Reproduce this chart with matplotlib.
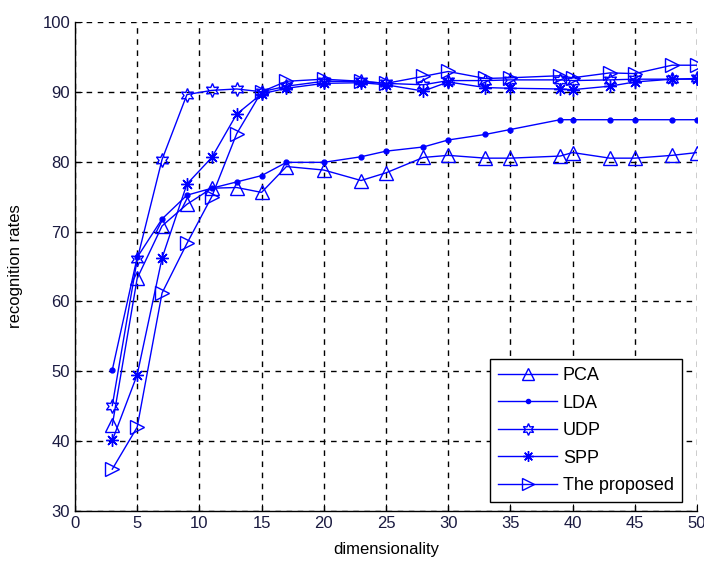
import matplotlib
matplotlib.use('Agg')
import matplotlib.pyplot as plt

plt.rcParams['font.family'] = ['Liberation Sans', 'DejaVu Sans']

dims = [3, 5, 7, 9, 11, 13, 15, 17, 20, 23, 25, 28, 30, 33, 35, 39, 40, 43, 45, 48, 50]

pca = [42.3, 63.3, 70.8, 73.9, 76.2, 76.3, 75.6, 79.3, 78.8, 77.3, 78.4, 80.6, 80.9,
       80.5, 80.5, 80.8, 81.3, 80.5, 80.5, 80.9, 81.3]
lda = [50.2, 66.3, 71.8, 75.2, 76.2, 77.1, 78.0, 79.9, 79.9, 80.7, 81.5, 82.1, 83.1,
       83.9, 84.6, 86.0, 86.0, 86.0, 86.0, 86.0, 86.0]
udp = [45.1, 66.0, 80.3, 89.6, 90.2, 90.4, 90.0, 90.8, 91.5, 91.5, 91.2, 91.0, 91.6,
       91.6, 91.7, 91.7, 91.6, 91.7, 91.8, 91.8, 91.9]
spp = [40.1, 49.5, 66.2, 76.8, 80.6, 86.8, 89.7, 90.5, 91.2, 91.3, 91.0, 90.1, 91.4,
       90.6, 90.5, 90.4, 90.3, 90.8, 91.4, 91.8, 91.8]
proposed = [36.0, 42.0, 61.2, 68.3, 75.0, 84.0, 90.0, 91.5, 91.8, 91.5, 91.2, 92.2, 92.9,
            91.9, 92.0, 92.3, 92.0, 92.7, 92.6, 93.8, 93.8]

labels = ['PCA', 'LDA', 'UDP', 'SPP', 'The proposed']

fig = plt.figure(figsize=(7.04, 5.61), dpi=100)
ax = fig.add_axes([0.1065, 0.089, 0.8835, 0.872])

blue = '#0000ff'
ax.plot(dims, pca, color=blue, lw=1, marker='^', ms=10, mfc='none', mec=blue, label=labels[0])
ax.plot(dims, lda, color=blue, lw=1, marker='.', ms=7, label=labels[1])
ax.plot(dims, udp, color=blue, lw=1, marker=(6, 1, 0), ms=10, mfc='none', mec=blue, label=labels[2])
ax.plot(dims, spp, color=blue, lw=1, marker=(8, 2, 0), ms=9, mec=blue, label=labels[3])
ax.plot(dims, proposed, color=blue, lw=1, marker='>', ms=10, mfc='none', mec=blue, label=labels[4])

ax.set_xlim(0, 50)
ax.set_ylim(30, 100)
ax.set_xticks(range(0, 51, 5))
ax.set_yticks(range(30, 101, 10))
ax.grid(True, color='black', linestyle=(0, (4, 4)), linewidth=1)
ax.tick_params(direction='in', length=5, labelsize=12, colors='black', labelcolor='#1a1a40')
for s in ['top', 'right']:
    ax.spines[s].set_visible(False)
for s in ['left', 'bottom']:
    ax.spines[s].set_linewidth(1)

ax.set_xlabel('dimensionality', fontsize=12, labelpad=8)
ax.set_ylabel('recognition rates', fontsize=12, labelpad=14)

leg = ax.legend(loc='lower right', bbox_to_anchor=(0.976, 0.018), borderaxespad=0,
                fontsize=13, handlelength=3.3, handletextpad=0.3, markerscale=0.85,
                numpoints=1, fancybox=False, framealpha=1, edgecolor='black',
                borderpad=0.45, labelspacing=0.58)
leg.get_frame().set_linewidth(1)

plt.savefig('out.png', dpi=100)
